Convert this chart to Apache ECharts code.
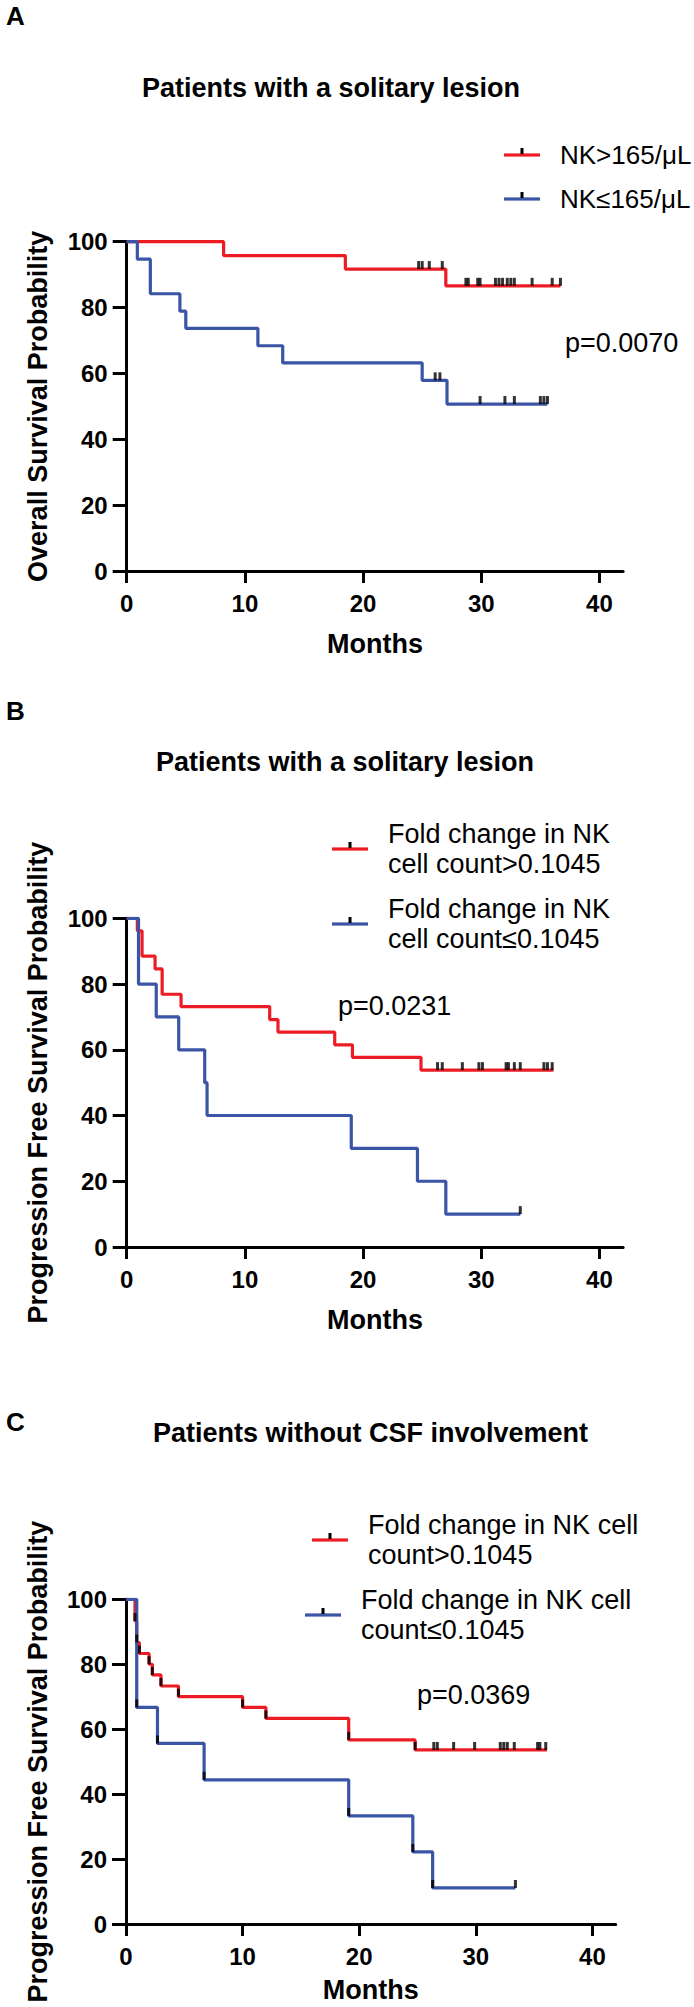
<!DOCTYPE html>
<html>
<head>
<meta charset="utf-8">
<script src="https://cdn.jsdelivr.net/npm/echarts@6/dist/echarts.min.js"></script>
<style>
  html, body { margin: 0; padding: 0; background: #fff; }
  #chart { width: 694px; height: 2007px; }
</style>
</head>
<body>
<div id="chart"></div>
<script>
// 坐标轴刻度
const xTicks = [0, 10, 20, 30, 40];
const yTicks = [0, 20, 40, 60, 80, 100];

// A: 总生存，单发病灶
const aRedName = 'NK>165/μL';
const aBlueName = 'NK≤165/μL';
const aRedTimes = [8.2, 18.5, 27.0];
const aRedSurv = [95.8, 91.7, 86.6];
const aRedEnd = 36.7;
const aRedCensor = [24.7, 25.0, 25.6, 26.7, 28.7, 28.9, 29.7, 29.9, 31.2, 31.5, 31.8, 32.2, 32.5, 32.8, 34.3, 36.0, 36.7];
const aBlueTimes = [0.9, 2.0, 4.5, 5.0, 11.1, 13.2, 25.0, 27.1];
const aBlueSurv = [94.7, 84.2, 78.9, 73.7, 68.4, 63.2, 57.9, 50.7];
const aBlueEnd = 35.6;
const aBlueCensor = [26.1, 26.5, 29.9, 32.0, 32.8, 35.0, 35.3, 35.6];

// B: 无进展生存，单发病灶
const bRedName = 'Fold change in NK\ncell count>0.1045';
const bBlueName = 'Fold change in NK\ncell count≤0.1045';
const bRedTimes = [0.9, 1.3, 2.4, 3.0, 4.6, 12.1, 12.8, 17.6, 19.1, 24.9];
const bRedSurv = [96.2, 88.5, 84.6, 76.9, 73.1, 69.2, 65.4, 61.5, 57.7, 53.8];
const bRedEnd = 36.1;
const bRedCensor = [26.3, 26.7, 28.4, 29.8, 30.1, 32.1, 32.3, 32.8, 33.3, 35.3, 35.6, 36.0];
const bBlueTimes = [1.0, 2.5, 4.4, 6.6, 6.8, 19.0, 24.6, 27.0];
const bBlueSurv = [80, 70, 60, 50, 40, 30, 20, 10];
const bBlueEnd = 33.3;
const bBlueCensor = [33.3];

// C: 无进展生存，无脑脊液受累
const cRedName = 'Fold change in NK cell\ncount>0.1045';
const cBlueName = 'Fold change in NK cell\ncount≤0.1045';
const cRedTimes = [0.77, 0.92, 1.15, 1.98, 2.26, 3.0, 4.5, 10.0, 12.0, 19.1, 24.8];
const cRedSurv = [93.3, 86.7, 83.3, 80.0, 76.7, 73.3, 70.0, 66.7, 63.3, 56.7, 53.6];
const cRedEnd = 36.1;
const cRedCensor = [26.4, 26.7, 28.1, 29.9, 32.1, 32.4, 32.7, 33.3, 35.3, 35.5, 36.0];
const cBlueTimes = [0.92, 2.7, 6.7, 19.1, 24.6, 26.3];
const cBlueSurv = [66.7, 55.6, 44.4, 33.3, 22.2, 11.1];
const cBlueEnd = 33.4;
const cBlueCensor = [33.4];

const RED = '#ED1C24';
const BLUE = '#3A55A5';
const FONT = '"Liberation Sans", Arial, sans-serif';

function kmLine(times, surv, end) {
  const pts = [[0, 100]];
  times.forEach((t, i) => pts.push([t, surv[i]]));
  pts.push([end, surv[surv.length - 1]]);
  return pts;
}
function levelAt(times, surv, t) {
  let s = 100;
  times.forEach((tt, i) => { if (tt <= t) s = surv[i]; });
  return s;
}
function censorPts(times, surv, censor) {
  return censor.map(t => [t, levelAt(times, surv, t)]);
}
function legendIcon(color) {
  const svg = '<svg xmlns="http://www.w3.org/2000/svg" width="51" height="16">' +
    '<rect x="0" y="6.4" width="36" height="3.2" fill="' + color + '"/>' +
    '<rect x="16.5" y="1" width="3" height="6" fill="#000"/></svg>';
  return 'image://data:image/svg+xml;charset=utf-8,' + encodeURIComponent(svg);
}

const grids = [
  { left: 126.7, top: 241.7, width: 496.4, height: 329.3 },
  { left: 126.7, top: 918.3, width: 496.4, height: 328.7 },
  { left: 126, top: 1599.3, width: 489.7, height: 324.7 }
];
const yNames = ['Overall Survival Probability', 'Progression Free Survival Probability', 'Progression Free Survival Probability'];
const xNameGaps = [59, 59, 52];

const axisLine = { show: true, lineStyle: { color: '#000', width: 3 } };
const tickLabel = { color: '#000', fontSize: 24, fontWeight: 'bold', fontFamily: FONT };
const nameStyle = { color: '#000', fontSize: 27, fontWeight: 'bold', fontFamily: FONT };

const xAxes = grids.map((g, i) => ({
  type: 'value', gridIndex: i, min: 0, max: 42,
  name: 'Months', nameLocation: 'middle', nameGap: xNameGaps[i], nameTextStyle: nameStyle,
  axisLine: axisLine,
  axisTick: { show: true, length: 12, lineStyle: { color: '#000', width: 3 }, customValues: xTicks },
  axisLabel: Object.assign({ margin: 20, customValues: xTicks }, tickLabel),
  splitLine: { show: false }
}));
const yAxes = grids.map((g, i) => ({
  type: 'value', gridIndex: i, min: 0, max: 100, interval: 20,
  name: yNames[i], nameLocation: 'middle', nameGap: 75, nameTextStyle: nameStyle,
  axisLine: axisLine,
  axisTick: { show: true, length: 14, lineStyle: { color: '#000', width: 3 }, customValues: yTicks },
  axisLabel: Object.assign({ margin: 19, customValues: yTicks }, tickLabel),
  splitLine: { show: false }
}));

function stepSeries(name, color, idx, times, surv, end) {
  return {
    name: name, type: 'line', step: 'end', xAxisIndex: idx, yAxisIndex: idx,
    data: kmLine(times, surv, end), showSymbol: false, symbol: 'none',
    color: color, lineStyle: { color: color, width: 3.2 }, z: 2
  };
}
function tickSeries(idx, pts) {
  return {
    type: 'scatter', xAxisIndex: idx, yAxisIndex: idx, data: pts,
    symbol: 'rect', symbolSize: [3, 8], symbolOffset: [0, -4],
    itemStyle: { color: '#000' }, z: 3, silent: true
  };
}

const series = [
  stepSeries(aRedName, RED, 0, aRedTimes, aRedSurv, aRedEnd),
  stepSeries(aBlueName, BLUE, 0, aBlueTimes, aBlueSurv, aBlueEnd),
  tickSeries(0, censorPts(aRedTimes, aRedSurv, aRedCensor)),
  tickSeries(0, censorPts(aBlueTimes, aBlueSurv, aBlueCensor)),
  stepSeries(bRedName, RED, 1, bRedTimes, bRedSurv, bRedEnd),
  stepSeries(bBlueName, BLUE, 1, bBlueTimes, bBlueSurv, bBlueEnd),
  tickSeries(1, censorPts(bRedTimes, bRedSurv, bRedCensor)),
  tickSeries(1, censorPts(bBlueTimes, bBlueSurv, bBlueCensor)),
  stepSeries(cRedName, RED, 2, cRedTimes, cRedSurv, cRedEnd),
  stepSeries(cBlueName, BLUE, 2, cBlueTimes, cBlueSurv, cBlueEnd),
  tickSeries(2, censorPts(cRedTimes, cRedSurv, cRedCensor)),
  tickSeries(2, censorPts(cBlueTimes, cBlueSurv, cBlueCensor)),
  // C 图中每个下降点也带有黑色标记
  tickSeries(2, cRedTimes.map((t, i) => [t, cRedSurv[i]])),
  tickSeries(2, cBlueTimes.map((t, i) => [t, cBlueSurv[i]]))
];

function legendItem(name, color, left, top, size) {
  return {
    data: [name], left: left, top: top, padding: 0, selectedMode: false,
    icon: legendIcon(color), itemWidth: 51, itemHeight: 16,
    textStyle: { color: '#000', fontSize: size, lineHeight: 30, fontFamily: FONT }
  };
}

function titleItem(text, left, top) {
  return {
    text: text, left: left, top: top, padding: 0,
    textStyle: { color: '#000', fontSize: 27, fontWeight: 'bold', lineHeight: 30, fontFamily: FONT }
  };
}

function label(text, x, y, bold) {
  return {
    type: 'text', x: x, y: y, silent: true,
    style: { text: text, fill: '#000', font: (bold ? 'bold 26px ' : '27px ') + FONT, verticalAlign: 'middle' }
  };
}

const chart = echarts.init(document.getElementById('chart'), null, { renderer: 'svg' });
chart.setOption({
  animation: false,
  backgroundColor: '#fff',
  title: [
    titleItem('Patients with a solitary lesion', 142, 73),
    titleItem('Patients with a solitary lesion', 156, 747),
    titleItem('Patients without CSF involvement', 153, 1418)
  ],
  legend: [
    legendItem(aRedName, RED, 504, 140, 26),
    legendItem(aBlueName, BLUE, 504, 184, 26),
    legendItem(bRedName, RED, 332, 819, 27),
    legendItem(bBlueName, BLUE, 332, 894, 27),
    legendItem(cRedName, RED, 312, 1510, 27),
    legendItem(cBlueName, BLUE, 305, 1585, 27)
  ],
  grid: grids.map(g => Object.assign({ outerBoundsMode: 'none', containLabel: false }, g)),
  xAxis: xAxes,
  yAxis: yAxes,
  series: series,
  graphic: [
    label('A', 6, 16, true),
    label('B', 6, 711, true),
    label('C', 6, 1422, true),
    label('p=0.0070', 565, 343, false),
    label('p=0.0231', 338, 1006, false),
    label('p=0.0369', 417, 1695, false)
  ]
});
</script>
</body>
</html>
